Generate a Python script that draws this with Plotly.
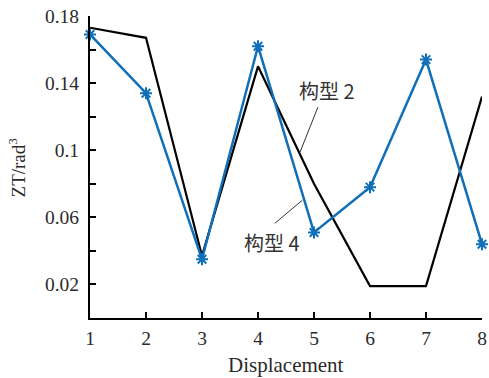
import plotly.graph_objects as go

displacement = [1, 2, 3, 4, 5, 6, 7, 8]
config2 = [0.173, 0.167, 0.037, 0.150, 0.080, 0.019, 0.019, 0.132]
config4 = [0.169, 0.134, 0.035, 0.162, 0.051, 0.078, 0.154, 0.044]
y_ticks = [0.02, 0.06, 0.1, 0.14, 0.18]
y_tick_labels = ["0.02", "0.06", "0.1", "0.14", "0.18"]
y_minor_ticks = [0.04, 0.08, 0.12, 0.16]

serif = "Liberation Serif, Times New Roman, serif"
blue = "#0f6fb8"

fig = go.Figure()
fig.add_trace(go.Scatter(x=displacement, y=config2, mode="lines",
                         line=dict(color="black", width=2.2), name="构型 2", cliponaxis=False))
fig.add_trace(go.Scatter(x=displacement, y=config4, mode="lines+markers",
                         line=dict(color=blue, width=2.5),
                         marker=dict(symbol="asterisk-open", size=10,
                                     line=dict(color=blue, width=2)),
                         name="构型 4", cliponaxis=False))

fig.update_layout(
    width=489, height=378,
    margin=dict(l=90, r=7, t=16, b=60),
    plot_bgcolor="white", paper_bgcolor="white",
    showlegend=False,
    font=dict(family=serif, size=19, color="#2a2a2a"),
    xaxis=dict(range=[1, 8], tickvals=displacement, ticks="inside", ticklen=6,
               tickwidth=1.5, tickcolor="black", showline=True, linecolor="black",
               linewidth=2, showgrid=False, zeroline=False, automargin=False,
               ticklabelstandoff=2,
               tickfont=dict(family=serif, size=19.5)),
    yaxis=dict(range=[0, 0.18], tickvals=y_ticks, ticktext=y_tick_labels,
               ticks="inside", ticklen=6, tickwidth=1.5, tickcolor="black",
               showline=True, linecolor="black", linewidth=2, showgrid=False,
               zeroline=False, automargin=False, ticklabelstandoff=5,
               minor=dict(tickvals=y_minor_ticks, ticks="inside", ticklen=6,
                          tickwidth=1.5, tickcolor="black", showgrid=False),
               tickfont=dict(family=serif, size=19.5)),
)

fig.add_annotation(xref="paper", yref="paper", x=0.5, y=-0.11, yanchor="top",
                   text="Displacement", showarrow=False,
                   font=dict(family=serif, size=21, color="#2a2a2a"))
fig.add_annotation(xref="paper", yref="paper", x=-0.185, y=0.5, xanchor="center",
                   text="ZT/rad<sup>3</sup>", showarrow=False, textangle=-90,
                   font=dict(family=serif, size=19, color="#2a2a2a"))

cjk = "Noto Sans CJK SC"
fig.add_shape(type="line", x0=5.07, y0=0.1257, x1=4.75, y1=0.0988,
              line=dict(color="#333", width=1))
fig.add_shape(type="line", x0=4.30, y0=0.0564, x1=4.79, y1=0.0702,
              line=dict(color="#333", width=1))
fig.add_annotation(x=5.23, y=0.1358, text="构型 2", showarrow=False,
                   font=dict(family=cjk, size=20, color="#333"))
fig.add_annotation(x=4.25, y=0.045, text="构型 4", showarrow=False,
                   font=dict(family=cjk, size=20, color="#333"))

fig.write_html("out.html", config={"displayModeBar": False},
               post_script="document.body.style.margin='0';")
